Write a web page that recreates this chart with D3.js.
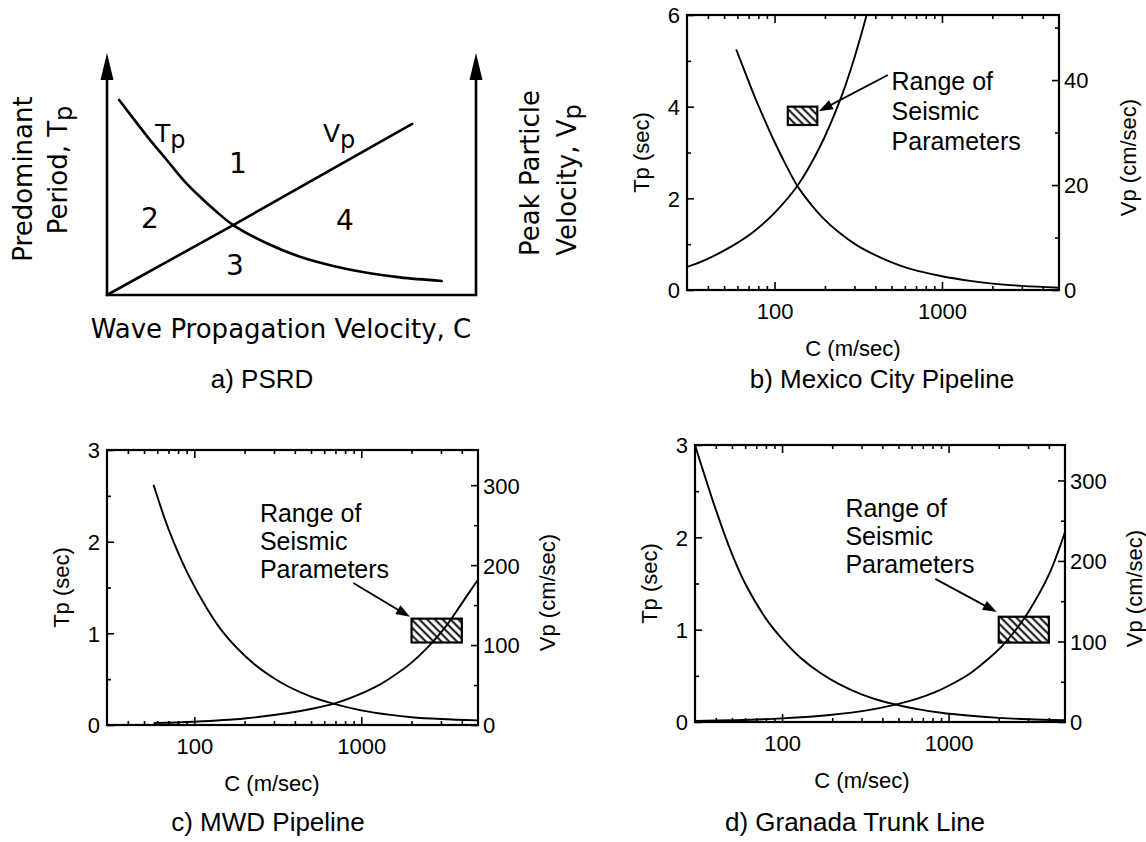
<!DOCTYPE html>
<html>
<head>
<meta charset="utf-8">
<script src="https://cdn.jsdelivr.net/npm/d3@7"></script>
<style>
  body { margin: 0; background: #fff; }
  svg { display: block; }
</style>
</head>
<body>
<svg id="chart" width="1146" height="842"></svg>
<script>
// ================= DATA =================
// a) PSRD – schematic curves (normalised C and value units)
const psrdTpC = [0.033, 0.071, 0.117, 0.162, 0.207, 0.252, 0.297, 0.342, 0.433, 0.523, 0.613, 0.704, 0.794, 0.907];
const psrdTp  = [0.806, 0.730, 0.640, 0.558, 0.475, 0.406, 0.344, 0.289, 0.214, 0.158, 0.120, 0.092, 0.073, 0.058];
const psrdVpC = [0, 0.342, 0.827];
const psrdVp  = [0, 0.289, 0.707];
const psrdRegions = ["1", "2", "3", "4"];

// common x axis (C, m/sec, log)
const cDomain = [30, 5000];
const cMajorTicks = [100, 1000];
const cMinorTicks = [40, 50, 60, 70, 80, 90, 200, 300, 400, 500, 600, 700, 800, 900, 2000, 3000, 4000];

// b) Mexico City Pipeline
const mexTpC = [59, 70, 78, 90, 98, 115, 138, 165, 195, 240, 309, 400, 488, 600, 772, 1000, 1470, 2000, 3000, 5000];
const mexTp  = [5.25, 4.55, 4.12, 3.6, 3.3, 2.78, 2.25, 1.87, 1.57, 1.27, 0.98, 0.76, 0.62, 0.5, 0.39, 0.3, 0.2, 0.14, 0.09, 0.05];
const mexVpC = [30, 39, 56, 75, 100, 138, 186, 245, 295, 370];
const mexVp  = [4.4, 5.8, 8.4, 11.1, 14.7, 20.0, 27.2, 36.0, 43.5, 54.5];
const mexBoxC = [120, 180], mexBoxTp = [3.6, 4.0];
const mexTpTicks = [0, 2, 4, 6], mexTpMinor = [1, 3, 5];
const mexVpTicks = [0, 20, 40], mexVpMinor = [10, 30, 50];

// c) MWD Pipeline
const mwdTpC = [57, 70, 92, 120, 146, 180, 230, 300, 365, 500, 695, 1000, 1500, 2000, 3000, 5000];
const mwdTp  = [2.62, 2.14, 1.64, 1.26, 1.03, 0.84, 0.66, 0.51, 0.42, 0.31, 0.228, 0.16, 0.11, 0.085, 0.065, 0.05];
const mwdVpC = [57, 100, 200, 365, 500, 695, 918, 1200, 1450, 2000, 2630, 3200, 3820, 4400, 5000];
const mwdVp  = [2.3, 4.1, 8.2, 15, 20, 27, 36, 47, 57, 78, 102, 123, 146, 165, 182];
const mwdBoxC = [2000, 4000], mwdBoxTp = [0.9, 1.16];

// d) Granada Trunk Line
const granTpC = [30, 40, 50, 60, 80, 100, 130, 170, 220, 300, 400, 480, 650, 900, 1300, 2000, 3000, 5000];
const granTp  = [3.0, 2.3, 1.82, 1.5, 1.12, 0.9, 0.69, 0.53, 0.41, 0.30, 0.225, 0.19, 0.14, 0.10, 0.07, 0.045, 0.03, 0.02];
const granVpC = [30, 50, 100, 200, 330, 479, 650, 830, 1000, 1317, 1700, 2086, 2500, 3000, 4000, 5000];
const granVp  = [1.35, 2.25, 4.5, 9, 14.8, 21.6, 29, 37, 45, 59, 77, 94, 113, 136, 183, 236];
const granBoxC = [2000, 4000], granBoxTp = [0.86, 1.14];

const lowTpTicks = [0, 1, 2, 3], lowTpMinor = [0.5, 1.5, 2.5];
const lowVpTicks = [0, 100, 200, 300], lowVpMinor = [50, 150, 250];

const rangeLines = ["Range of", "Seismic", "Parameters"];

// ================= DRAWING =================
const svg = d3.select("#chart");
const FONT = "'Liberation Sans', Arial, Helvetica, sans-serif";
const FONT_A = "'DejaVu Sans', Verdana, sans-serif";
const zip = (a, b) => a.map((v, i) => [v, b[i]]);
const smooth = d3.curveCatmullRom.alpha(0.5);

const defs = svg.append("defs");
const pat = defs.append("pattern")
  .attr("id", "hatch").attr("patternUnits", "userSpaceOnUse")
  .attr("width", 5.5).attr("height", 5.5)
  .attr("patternTransform", "rotate(-45)");
pat.append("rect").attr("width", 5.5).attr("height", 5.5).attr("fill", "#fff");
pat.append("line").attr("x1", 1.5).attr("y1", 0).attr("x2", 1.5).attr("y2", 5.5)
  .attr("stroke", "#000").attr("stroke-width", 1.9);

function arrowHead(g, x1, y1, x2, y2, len, half, lineW) {
  const dx = x2 - x1, dy = y2 - y1, L = Math.hypot(dx, dy);
  const ux = dx / L, uy = dy / L;
  const bx = x2 - ux * len, by = y2 - uy * len;
  g.append("line").attr("x1", x1).attr("y1", y1).attr("x2", bx + ux * 2).attr("y2", by + uy * 2)
    .attr("stroke", "#000").attr("stroke-width", lineW);
  g.append("path")
    .attr("d", `M${x2},${y2}L${bx - uy * half},${by + ux * half}L${bx + uy * half},${by - ux * half}Z`)
    .attr("fill", "#000");
}

// ---------- Panel a ----------
(function () {
  const g = svg.append("g");
  const x = d3.scaleLinear().domain([0, 1]).range([107, 476]);
  const y = d3.scaleLinear().domain([0, 1]).range([295, 53]);
  const lw = 2.6;
  g.append("path").attr("d", `M${x(0)},${y(1) + 20}L${x(0)},${y(0)}L${x(1)},${y(0)}L${x(1)},${y(1) + 20}`)
    .attr("fill", "none").attr("stroke", "#000").attr("stroke-width", lw).attr("stroke-linejoin", "miter");
  [0, 1].forEach(v => {
    g.append("path").attr("d", `M${x(v)},${y(1)}L${x(v) - 6.5},${y(1) + 27}L${x(v) + 6.5},${y(1) + 27}Z`).attr("fill", "#000");
  });
  const line = d3.line().x(d => x(d[0])).y(d => y(d[1])).curve(smooth);
  g.append("path").attr("d", line(zip(psrdTpC, psrdTp))).attr("fill", "none").attr("stroke", "#000").attr("stroke-width", lw).attr("stroke-linecap", "round");
  g.append("path").attr("d", d3.line().x(d => x(d[0])).y(d => y(d[1]))(zip(psrdVpC, psrdVp)))
    .attr("fill", "none").attr("stroke", "#000").attr("stroke-width", lw).attr("stroke-linecap", "round");

  const t = (tx, ty) => g.append("text").attr("x", tx).attr("y", ty).attr("font-family", FONT_A).attr("fill", "#000");
  const tp = t(155, 142).attr("font-size", 25);
  tp.append("tspan").text("T");
  tp.append("tspan").attr("dy", 6).attr("font-size", 24).text("p");
  const vp = t(323, 142).attr("font-size", 25);
  vp.append("tspan").text("V");
  vp.append("tspan").attr("dy", 6).attr("font-size", 24).text("p");
  const regPos = [[238, 173], [150, 228], [235, 275], [345, 230]];
  psrdRegions.forEach((r, i) => t(regPos[i][0], regPos[i][1]).attr("font-size", 28).attr("text-anchor", "middle").text(r));
  t(281, 338).attr("font-size", 26).attr("text-anchor", "middle").text("Wave Propagation Velocity, C");
  const rot = (bx, cy, parts) => {
    const tx = g.append("text").attr("transform", `translate(${bx},${cy}) rotate(-90)`)
      .attr("text-anchor", "middle").attr("font-family", FONT_A).attr("font-size", 26).attr("fill", "#000");
    parts.forEach(p => {
      const s = tx.append("tspan").text(p.t);
      if (p.sub) s.attr("dy", 5).attr("font-size", 24);
    });
  };
  rot(32, 179, [{ t: "Predominant" }]);
  rot(67, 170, [{ t: "Period, T" }, { t: "p", sub: true }]);
  rot(539, 173, [{ t: "Peak Particle" }]);
  rot(576, 180, [{ t: "Velocity, V" }, { t: "p", sub: true }]);
  g.append("text").attr("x", 262).attr("y", 388).attr("text-anchor", "middle")
    .attr("font-family", FONT).attr("font-size", 26).text("a) PSRD");
})();

// ---------- Panels b, c, d ----------
function panel(cfg) {
  const g = svg.append("g");
  const x = d3.scaleLog().domain(cDomain).range([cfg.left, cfg.right]);
  const yT = d3.scaleLinear().domain(cfg.tpDomain).range([cfg.bottom, cfg.top]);
  const yV = d3.scaleLinear().domain(cfg.vpDomain).range([cfg.bottom, cfg.top]);
  const clipId = "clip" + cfg.id;
  defs.append("clipPath").attr("id", clipId).append("rect")
    .attr("x", cfg.left).attr("y", cfg.top).attr("width", cfg.right - cfg.left).attr("height", cfg.bottom - cfg.top);

  const styleAxis = (sel, dy) => {
    sel.attr("font-family", FONT).attr("font-size", 22);
    sel.select(".domain").remove();
    sel.selectAll(".tick line").attr("stroke", "#000").attr("stroke-width", 1.6);
    sel.selectAll(".tick text").attr("fill", "#000").attr("dy", dy || "0.36em");
  };
  const ax = (tr, axis, dy) => g.append("g").attr("transform", tr).call(axis).call(s => styleAxis(s, dy));
  ax(`translate(0,${cfg.bottom})`, d3.axisBottom(x).tickValues(cMajorTicks).tickSize(-8).tickPadding(13).tickFormat(d3.format("d")), "0.71em");
  ax(`translate(0,${cfg.bottom})`, d3.axisBottom(x).tickValues(cMinorTicks).tickSize(-4).tickFormat(""));
  ax(`translate(0,${cfg.top})`, d3.axisTop(x).tickValues(cMajorTicks).tickSize(-8).tickFormat(""));
  ax(`translate(0,${cfg.top})`, d3.axisTop(x).tickValues(cMinorTicks).tickSize(-4).tickFormat(""));
  ax(`translate(${cfg.left},0)`, d3.axisLeft(yT).tickValues(cfg.tpTicks).tickSize(-7).tickPadding(7).tickFormat(d3.format("d")));
  ax(`translate(${cfg.left},0)`, d3.axisLeft(yT).tickValues(cfg.tpMinor).tickSize(-4).tickFormat(""));
  ax(`translate(${cfg.right},0)`, d3.axisRight(yV).tickValues(cfg.vpTicks).tickSize(-7).tickPadding(5).tickFormat(d3.format("d")));
  ax(`translate(${cfg.right},0)`, d3.axisRight(yV).tickValues(cfg.vpMinor).tickSize(-4).tickFormat(""));

  const cg = g.append("g").attr("clip-path", `url(#${clipId})`);
  const lineT = d3.line().x(d => x(d[0])).y(d => yT(d[1])).curve(smooth);
  const lineV = d3.line().x(d => x(d[0])).y(d => yV(d[1])).curve(smooth);
  cg.append("path").attr("d", lineT(zip(cfg.tpC, cfg.tp))).attr("fill", "none").attr("stroke", "#000").attr("stroke-width", 1.9);

  cg.append("rect")
    .attr("x", x(cfg.boxC[0])).attr("y", yT(cfg.boxTp[1]))
    .attr("width", x(cfg.boxC[1]) - x(cfg.boxC[0])).attr("height", yT(cfg.boxTp[0]) - yT(cfg.boxTp[1]))
    .attr("fill", "url(#hatch)").attr("stroke", "#000").attr("stroke-width", 2.2);
  cg.append("path").attr("d", lineV(zip(cfg.vpC, cfg.vp))).attr("fill", "none").attr("stroke", "#000").attr("stroke-width", 1.9);

  g.append("rect").attr("x", cfg.left).attr("y", cfg.top).attr("width", cfg.right - cfg.left).attr("height", cfg.bottom - cfg.top)
    .attr("fill", "none").attr("stroke", "#000").attr("stroke-width", 2.2);

  const tx = x(cfg.textAt[0]), ty = yT(cfg.textAt[1]);
  rangeLines.forEach((s, i) => g.append("text").attr("x", tx).attr("y", ty + i * cfg.lineGap)
    .attr("font-family", FONT).attr("font-size", 25).attr("fill", "#000").text(s));
  arrowHead(g, x(cfg.arrowFrom[0]), yT(cfg.arrowFrom[1]), x(cfg.arrowTo[0]), yT(cfg.arrowTo[1]), 14, 5, 1.8);

  g.append("text").attr("x", cfg.cLabel[0]).attr("y", cfg.bottom + 66).attr("text-anchor", "middle")
    .attr("font-family", FONT).attr("font-size", 22).text("C (m/sec)");
  const mid = (cfg.top + cfg.bottom) / 2;
  g.append("text").attr("transform", `translate(${cfg.left - 38},${mid}) rotate(-90)`).attr("text-anchor", "middle")
    .attr("font-family", FONT).attr("font-size", 22).text("Tp (sec)");
  g.append("text").attr("transform", `translate(${cfg.right + 77},${mid + 5}) rotate(-90)`).attr("text-anchor", "middle")
    .attr("font-family", FONT).attr("font-size", 22).text("Vp (cm/sec)");
  g.append("text").attr("x", cfg.caption[0]).attr("y", cfg.caption[1]).attr("text-anchor", "middle")
    .attr("font-family", FONT).attr("font-size", 26).text(cfg.title);
}

panel({
  id: "b", left: 687, right: 1059, top: 15, bottom: 290,
  tpDomain: [0, 6], vpDomain: [0, 52.4],
  tpTicks: mexTpTicks, tpMinor: mexTpMinor, vpTicks: mexVpTicks, vpMinor: mexVpMinor,
  tpC: mexTpC, tp: mexTp, vpC: mexVpC, vp: mexVp, boxC: mexBoxC, boxTp: mexBoxTp,
  textAt: [500, 4.37], lineGap: 30, arrowFrom: [475, 4.69], arrowTo: [184, 3.9],
  cLabel: [853], caption: [882, 388], title: "b) Mexico City Pipeline"
});
panel({
  id: "c", left: 107, right: 478, top: 450, bottom: 725,
  tpDomain: [0, 3], vpDomain: [0, 344],
  tpTicks: lowTpTicks, tpMinor: lowTpMinor, vpTicks: lowVpTicks, vpMinor: lowVpMinor,
  tpC: mwdTpC, tp: mwdTp, vpC: mwdVpC, vp: mwdVp, boxC: mwdBoxC, boxTp: mwdBoxTp,
  textAt: [247, 2.22], lineGap: 28, arrowFrom: [896, 1.55], arrowTo: [1955, 1.18],
  cLabel: [272], caption: [268, 831], title: "c) MWD Pipeline"
});
panel({
  id: "d", left: 695, right: 1065, top: 445, bottom: 722,
  tpDomain: [0, 3], vpDomain: [0, 344],
  tpTicks: lowTpTicks, tpMinor: lowTpMinor, vpTicks: lowVpTicks, vpMinor: lowVpMinor,
  tpC: granTpC, tp: granTp, vpC: granVpC, vp: granVp, boxC: granBoxC, boxTp: granBoxTp,
  textAt: [240, 2.22], lineGap: 28, arrowFrom: [832, 1.55], arrowTo: [1946, 1.19],
  cLabel: [862], caption: [855, 831], title: "d) Granada Trunk Line"
});
</script>
</body>
</html>
